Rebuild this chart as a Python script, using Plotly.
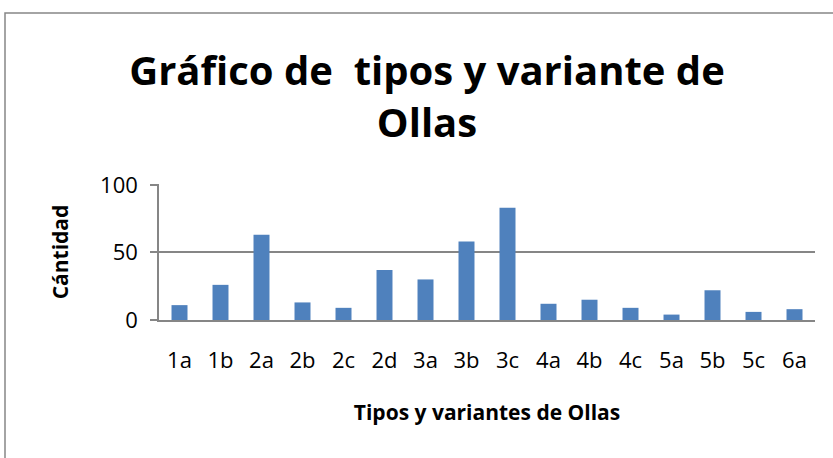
import plotly.graph_objects as go

categorias = ["1a", "1b", "2a", "2b", "2c", "2d", "3a", "3b", "3c",
              "4a", "4b", "4c", "5a", "5b", "5c", "6a"]
cantidad = [11, 26, 63, 13, 9, 37, 30, 58, 83, 12, 15, 9, 4, 22, 6, 8]
y_ticks = [0, 50, 100]

W, H = 833, 458
L, R, T, B = 159, 18, 184, 138
gris = "#868686"
fuente = "Open Sans, sans-serif"

fig = go.Figure(go.Bar(x=categorias, y=cantidad, marker_color="#4F81BD",
                       marker_line_width=0))

fig.update_layout(
	width=W, height=H,
	margin=dict(l=L, r=R, t=T, b=B, autoexpand=False),
	paper_bgcolor="white", plot_bgcolor="white",
	bargap=0.61,
	showlegend=False,
	font=dict(family=fuente, color="black"),
	title=dict(text="<b>Gráfico de  tipos y variante de<br>Ollas</b>",
	           x=427 / W, xanchor="center", xref="container",
	           y=1 - 85 / H, yanchor="middle", yref="container",
	           font=dict(size=40, family=fuente, color="black")),
)

fig.update_yaxes(range=[0, 100.6], tickvals=y_ticks, showgrid=True, gridcolor=gris,
                 gridwidth=1.5, showline=True, linecolor=gris, linewidth=1.5,
                 ticks="outside", ticklen=7, tickcolor=gris, tickwidth=1.5,
                 ticklabelstandoff=8, tickfont=dict(size=22),
                 zeroline=False, automargin=False,
                 title=dict(text="<b>Cántidad</b>", font=dict(size=21), standoff=26))
fig.update_xaxes(showline=True, linecolor=gris, linewidth=1.5, ticks="",
                 ticklabelstandoff=20, tickfont=dict(size=22), automargin=False,
                 title=dict(text="<b>Tipos y variantes de Ollas</b>", font=dict(size=21),
                            standoff=32))

# marco del grafico (cortado a la derecha y abajo como en la imagen)
pw, ph = W - L - R, H - T - B
fig.add_shape(type="rect", xref="paper", yref="paper",
              x0=(5 - L) / pw, x1=(W + 10 - L) / pw,
              y0=-(H + 10 - T - ph) / ph, y1=(H - B - 13) / ph,
              line=dict(color=gris, width=1.5), fillcolor="rgba(0,0,0,0)", layer="below")

fig.write_html("out.html", config={"displayModeBar": False},
               post_script="document.body.style.margin='0';")
